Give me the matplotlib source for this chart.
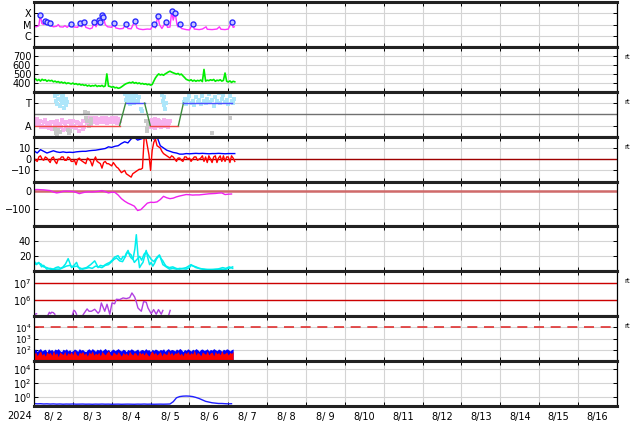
import numpy as np
import pandas as pd
import matplotlib
matplotlib.use("Agg")
import matplotlib.pyplot as plt
import matplotlib.dates as mdates
from matplotlib.ticker import FuncFormatter, NullFormatter, NullLocator

T0 = pd.Timestamp("2024-08-02")

# ---- panel 1: x-ray flux (hour, log10 W/m2) and flare peaks
xray = [(0, -5.15), (1.5, -5.2), (3, -5.1), (3.9, -4.12), (4.8, -4.9), (6, -5.0), (6.8, -4.67),
        (7.5, -4.95), (8.2, -4.79), (9, -5.0), (9.6, -4.85), (10.5, -5.1), (12, -5.2), (14, -5.15),
        (15, -5.0), (16, -5.2), (18, -5.22), (19.1, -5.1), (20.5, -5.25), (22.8, -4.94), (23.8, -5.2),
        (25.2, -5.22), (27, -5.25), (28.3, -4.85), (29.5, -5.2), (31, -4.76), (32, -5.25), (34.5, -5.38),
        (36, -5.3), (37.1, -4.76), (38.3, -5.2), (40, -4.57), (40.5, -5.0), (41, -4.76), (41.6, -5.0),
        (42, -4.12), (42.5, -4.6), (42.9, -4.34), (44, -5.0), (45.5, -5.2), (46.8, -5.22), (48, -5.25),
        (49.4, -4.85), (50.5, -5.3), (52.9, -5.38), (55, -5.35), (56.8, -4.94), (58, -5.35), (60, -5.38),
        (62.4, -4.64), (63.5, -5.3), (65, -5.4), (67.3, -5.45), (70, -5.4), (72, -5.42), (74, -4.94),
        (75, -5.3), (76.5, -4.21), (77.5, -5.0), (79, -5.35), (81.4, -4.76), (82.5, -5.25), (84, -5.22),
        (85.1, -3.76), (86, -4.6), (87.2, -3.94), (88.3, -5.0), (89, -5.22), (90, -4.94), (91, -5.35),
        (94, -5.45), (96, -5.48), (98, -4.94), (99, -5.4), (102, -5.45), (104, -5.4), (106.3, -5.2),
        (107, -5.42), (110, -5.45), (113, -5.4), (114.5, -5.2), (115.5, -5.42), (118, -5.45),
        (120, -5.4), (122, -4.76), (123, -5.25), (123.7, -5.2)]
flares = [(3.9, -4.12), (6.8, -4.67), (8.2, -4.79), (9.6, -4.85), (22.8, -4.94), (28.3, -4.85),
          (31, -4.76), (37.1, -4.76), (40, -4.57), (41, -4.76), (42, -4.12), (42.9, -4.34),
          (49.4, -4.85), (56.8, -4.94), (62.4, -4.64), (74, -4.94), (76.5, -4.21), (81.4, -4.76),
          (85.1, -3.76), (87.2, -3.94), (90, -4.94), (98, -4.94), (122, -4.76)]

# ---- panel 2: solar wind speed, hourly from 8/2 00h
speed = [430, 445, 425, 438, 420, 440, 428, 435, 418, 430,
         422, 428, 412, 420, 408, 415, 402, 410, 398, 406,
         392, 400, 395, 388, 398, 385, 392, 380, 388, 376,
         382, 372, 378, 365, 374, 362, 370, 366, 375, 360,
         368, 362, 372, 358, 366, 500, 364, 360, 352, 358,
         345, 350, 340, 344, 355, 368, 382, 392, 398, 405,
         400, 410, 396, 404, 392, 400, 388, 394, 385, 390,
         380, 386, 375, 382, 420, 455, 480, 500, 488, 495,
         485, 500, 510, 522, 530, 520, 512, 505, 498, 505,
         490, 498, 478, 460, 440, 432, 425, 435, 420, 430,
         418, 428, 422, 432, 415, 550, 420, 430, 425, 435,
         428, 438, 418, 430, 425, 435, 420, 428, 510, 418,
         410, 422, 405, 418, 412]

# ---- panel 3: sector (T=+1, A=-1)
toward_pts = [(13, 1.6), (13.5, 1.2), (14, 1.8), (14.5, 0.9), (15, 1.4), (15.5, 1.9), (16, 0.7),
              (16.5, 1.3), (17, 1.5), (17.5, 1.0), (18, 1.7), (18.5, 0.6), (19, 1.2), (19.5, 1.4),
              (20, 0.8), (20.5, 1.1), (56.5, 1.8), (57, 1.3), (57.5, 1.6), (58, 1.1), (58.5, 1.9),
              (59, 1.4), (59.5, 0.9), (60, 1.5), (60.5, 1.2), (61, 1.7), (61.5, 1.0), (62, 1.4),
              (63, 1.6), (64, 1.2), (65, 1.5), (66, 0.5), (66.5, 0.3), (79, 1.7), (79.5, 1.2),
              (80, 0.8), (80.5, 1.5), (81, 0.5), (81.5, 1.0), (92.5, 1.1), (93, 1.4), (94, 0.9),
              (95, 1.3), (96, 1.6), (97, 1.0), (98, 1.2), (99, 0.8), (100, 1.5), (101, 1.1),
              (102, 1.3), (103, 0.9), (104, 1.6), (105, 1.2), (106, 1.0), (107, 1.4), (108, 1.8),
              (109, 1.1), (110, 1.3), (111, 0.7), (112, 1.5), (113, 1.2), (114, 1.9), (115, 1.0),
              (116, 1.4), (117, 1.7), (118, 1.1), (119, 1.3), (120, 0.9), (121, 1.6), (122, 1.2),
              (123, 1.0), (123.5, 1.4)]
away_pts = [(0, -0.5), (1, -0.8), (2, -0.4), (3, -0.9), (4, -0.6), (5, -1.0), (6, -0.7), (7, -1.1),
            (8, -0.8), (9, -1.2), (10, -0.9), (11, -1.3), (12, -0.7), (13, -1.0), (14, -0.6),
            (15, -1.2), (16, -0.9), (17, -0.5), (18, -1.4), (19, -0.8), (20, -1.1), (21, -0.7),
            (22, -1.3), (23, -0.9), (24, -0.6), (25, -1.0), (26, -1.2), (27, -0.8), (28, -1.5),
            (29, -0.9), (30, -0.6), (31, -1.1), (32, -0.4), (33, -0.8), (34, -0.5), (35, -0.9),
            (36, -0.3), (37, -0.7), (38, -0.5), (39, -0.8), (40, -0.4), (41, -0.6), (42, -0.3),
            (43, -0.7), (44, -0.5), (45, -0.8), (46, -0.4), (47, -0.6), (48, -0.3), (49, -0.7),
            (50, -0.5), (51, -0.8), (52, -0.4), (53, -0.6),
            (0.5, -0.9), (2.5, -0.6), (4.5, -1.1), (6.5, -0.5), (8.5, -1.0), (10.5, -0.7),
            (12.5, -1.2), (14.5, -0.9), (16.5, -1.1), (18.5, -0.7), (20.5, -1.3), (22.5, -0.6),
            (24.5, -1.1), (26.5, -0.7), (28.5, -1.0), (30.5, -1.3), (32.5, -0.7), (34.5, -0.3),
            (36.5, -0.6), (38.5, -0.3), (40.5, -0.7), (42.5, -0.5), (44.5, -0.3), (46.5, -0.7),
            (48.5, -0.5), (50.5, -0.3), (52.5, -0.7),
            (71, -0.6), (71.5, -0.9), (72, -1.1), (72.5, -0.7), (73, -0.5), (73.5, -1.0), (74, -0.8),
            (74.5, -0.4), (75, -1.2), (75.5, -0.7), (76, -0.9), (76.5, -0.5), (77, -1.0), (77.5, -0.6),
            (78, -0.8), (78.5, -1.1), (79, -0.7), (79.5, -0.9), (80, -0.5), (80.5, -0.8), (81, -1.0),
            (81.5, -0.6), (82, -0.9), (82.5, -0.7), (83, -1.1), (83.5, -0.8), (84, -0.6)]
gray_pts = [(13, -1.3), (13.5, -1.7), (14, -1.5), (14.5, -1.8), (15, -1.4), (16, -1.6), (21, -1.4),
            (21.5, -1.7), (22, -1.5), (31.5, 0.2), (32, -0.3), (33, -0.6), (33.5, 0.1), (34, -1.0),
            (35, -0.4), (35.5, -0.8), (69, -0.6), (69.5, -1.2), (70, -1.5), (70.5, -0.9),
            (110, -1.7), (121, -0.3)]
sector_line = [(0, -1), (52.9, -1), (56.6, 1), (68.3, 1), (71.8, -1), (89.2, -1), (92.3, 1), (122, 1)]
sector_colors = ["#f04848", "#3c8c3c", "#5050ff", "#3c8c3c", "#f04848", "#3c8c3c", "#5050ff"]

# ---- panel 4: IMF Bt (2-hourly) and Bz (hourly), nT
bt = [7.5, 5.5, 8.5, 7, 5.5, 6.5, 7.5, 6.5, 6, 6.5,
      6, 6.2, 6, 6.5, 6.8, 7, 7, 7.5, 7.8, 8,
      8.5, 9, 9.5, 11, 10.5, 11.5, 12, 14, 15.5, 14.5,
      18, 19.5, 17, 18, 19, 21, 20, 18, 20, 12,
      10, 8, 7, 6, 5.5, 4.5, 4.5, 5, 4.8, 5,
      5.2, 5, 5.2, 5, 4.8, 5, 5, 5.2, 5, 4.8,
      5, 5, 5]
bz = [1, -1, -2, 2, 3, 0, -1, 2, 1, -1,
      -3, 1, 2, -2, -4, 0, 0, 2, 2, -1,
      -1, 2, 1, -2, -2, -1, -5, 0, 1, -1,
      -2, -3, -4, 1, 0, -2, -6, -1, 2, -2,
      -3, -4, -8, -3, -2, -4, -4, -5, -6, -3,
      -5, -7, -8, -10, -12, -11, -10, -13, -14, -15,
      -16, -13, -12, -11, -10, -9, -9, -8, 18, 20,
      12, 4, -10, 8, 15, 18, 12, 11, 10, 7,
      5, 4, 3, 2, 1, 3, 2, 0, -2, 1,
      1, -1, -2, 2, 2, 0, 1, -2, 0, 2,
      2, -1, 0, 1, 3, -2, 2, -3, 3, 0,
      -3, 2, 3, -3, 1, 3, -2, 3, -2, 2,
      2, -3, 3, 1, -2]

# ---- panel 5: Dst (2-hourly), nT
dst = [5, 6, 5, 4, 2, 0, -8, -13, -10, -4,
       -3, -4, -5, -10, -17, -12, -8, -7, -8, -6,
       -4, 0, -6, -13, -9, -10, -25, -45, -59, -70,
       -78, -87, -111, -106, -88, -70, -65, -66, -63, -50,
       -32, -40, -45, -42, -35, -30, -26, -22, -23, -25,
       -24, -24, -22, -20, -18, -17, -16, -14, -13, -22,
       -20, -19]

# ---- panel 6: two cyan index curves
cyan_a = [(0, 14), (1.6, 9), (3, 12), (4.7, 6), (6, 8), (7.8, 3), (10, 4), (11.9, 3), (13.5, 5),
          (15, 6), (16.5, 4), (18, 6), (19.5, 10), (21.1, 17), (22, 12), (23.2, 5), (24.7, 8),
          (26.3, 12), (27.3, 6), (28.3, 3), (30.5, 4), (32.4, 5), (35, 9), (37.5, 14), (38.5, 10),
          (39.6, 5), (41, 8), (42.7, 7), (44.8, 10), (46.8, 12), (48.3, 15), (49.8, 19), (51.9, 21),
          (53, 17), (54, 16), (55, 20), (56, 19), (57, 24), (58.1, 28), (59.1, 21), (60, 18),
          (61.1, 16), (62.3, 30), (63.2, 49), (64.2, 22), (65.2, 5), (66.3, 9), (67.3, 12),
          (68.3, 20), (69.3, 28), (70.3, 18), (71.4, 9), (72.4, 12), (73.4, 7), (74.5, 11),
          (75.5, 16), (76.5, 19), (77.5, 21), (78.5, 17), (79.6, 14), (80.6, 10), (81.6, 7),
          (83.6, 5), (85.7, 6), (87.8, 4), (89.9, 3), (92, 4), (94, 5), (95.5, 7), (97, 9),
          (98.5, 7), (100.1, 6), (102, 4), (104.2, 3), (107, 2.5), (110.4, 2.7), (113.5, 3),
          (116.5, 5), (118.5, 4), (120.6, 6), (122.7, 4)]
cyan_b = [(0, 9), (2, 11), (4.2, 10), (6, 6), (8, 5), (10, 3), (12, 2.5), (14, 3), (16, 3), (18, 5),
          (20, 7), (22, 8), (24.2, 6), (26.3, 7), (28, 5), (30, 3), (32, 4), (34, 5), (36, 4),
          (38, 7), (40, 6), (42, 5), (44, 8), (46, 9), (48, 13), (49.4, 16), (51, 18), (52.9, 14),
          (54.7, 13), (56.5, 20), (57.5, 25), (58.9, 24), (60, 22), (62, 12), (64, 17), (65.2, 20),
          (66.5, 15), (68, 23), (69.3, 26), (70.5, 22), (72.4, 16), (74, 13), (76, 19), (77.5, 22),
          (79.6, 9), (81.6, 6), (83.7, 3), (85.7, 4), (88, 3), (90, 4), (94, 3), (96, 5), (97, 8),
          (98.5, 7), (100, 5), (102, 4), (106, 2.5), (110, 2), (114, 3), (118, 2.5), (120.6, 4),
          (122.7, 6)]

# ---- panel 7: electron fluence (log10), gaps as nan
electron = [(0, 5.1), (1.6, 5.15), (5, np.nan),
            (8.8, 5.1), (9.5, 5.24), (10.2, 5.15), (10.9, 5.24), (11.9, 5.22), (12.9, 5.12), (18, np.nan),
            (23.8, 5.1), (24.6, 5.36), (25.4, 5.3), (26.3, 5.12), (28, np.nan),
            (30.4, 5.1), (32.8, 5.44), (34, 5.3), (35.5, 5.3), (37.5, 5.42), (39.6, 5.18), (40.6, 5.3),
            (41.6, 5.8), (43.7, 5.3), (45.1, 5.72), (46.8, 5.12), (48.2, 5.8), (49.8, 5.75), (50.9, 6.02),
            (52.9, 6.0), (55, 6.1), (57, 6.06), (59.1, 6.12), (60.5, 6.4), (62.2, 6.15), (63.2, 5.86),
            (64.2, 5.5), (65.2, 5.4), (66.3, 5.3), (67.7, 5.88), (69.3, 5.85), (70.4, 5.5), (72.4, 5.15),
            (73.9, 5.4), (75.5, 5.12), (76.9, 5.4), (78.6, 5.12), (79.6, 5.35), (81, np.nan),
            (83.3, 5.1), (84.1, 5.35)]

# ---- panel 8: proton counts, hourly
proton_b = [95, 120, 70, 105, 130, 80, 100, 115, 65, 125,
            90, 110, 75, 120, 100, 130, 85, 70, 115, 95,
            125, 80, 105, 70, 90, 120, 100, 75, 130, 95,
            110, 80, 70, 105, 125, 90, 130, 100, 75, 115,
            95, 125, 80, 105, 135, 90, 110, 70, 100, 120,
            85, 105, 130, 95, 80, 115, 100, 70, 110, 90,
            125, 105, 80, 95, 120, 75, 100, 110, 85, 130,
            95, 105, 70, 115, 90, 120, 100, 80, 110, 95,
            125, 75, 105, 130, 90, 110, 100, 80, 120, 95,
            135, 105, 70, 110, 90, 125, 100, 80, 115, 95,
            130, 105, 75, 110, 120, 90, 100, 125, 80, 110,
            95, 130, 105, 85, 120, 100, 75, 115, 95, 125,
            110, 80, 105, 120]
proton_r = [40, 65, 30, 55, 80, 35, 50, 28, 70, 45,
            60, 32, 85, 40, 55, 25, 65, 48, 38, 75,
            30, 58, 42, 68, 35, 90, 45, 30, 60, 50,
            72, 38, 55, 28, 65, 45, 80, 35, 52, 40,
            62, 30, 75, 48, 36, 58, 85, 42, 30, 66,
            50, 38, 70, 45, 28, 60, 40, 55, 32, 78,
            46, 35, 62, 50, 30, 72, 44, 58, 36, 65,
            40, 28, 55, 80, 42, 60, 35, 50, 70, 30,
            58, 45, 38, 88, 40, 62, 33, 55, 48, 70,
            36, 52, 30, 65, 45, 75, 38, 58, 42, 95,
            35, 60, 48, 30, 68, 50, 40, 80, 36, 55,
            62, 30, 72, 45, 58, 38, 85, 42, 50, 66,
            35, 60, 48, 75]

# ---- panel 9: log10 flux, 2-hourly
flux9 = [-0.85, -0.9, -0.88, -0.92, -0.9, -0.93, -0.91, -0.94, -0.92, -0.95,
         -0.93, -0.94, -0.92, -0.95, -0.94, -0.93, -0.95, -0.94, -0.96, -0.94,
         -0.95, -0.93, -0.95, -0.94, -0.96, -0.95, -0.94, -0.96, -0.95, -0.94,
         -0.95, -0.96, -0.94, -0.95, -0.93, -0.95, -0.94, -0.96, -0.95, -0.94,
         -0.95, -0.94, -0.92, -0.6, -0.05, 0.12, 0.18, 0.2, 0.18, 0.12,
         0.0, -0.15, -0.35, -0.55, -0.65, -0.75, -0.8, -0.85, -0.85, -0.88,
         -0.9, -0.88]


def t(hours):
    return T0 + pd.to_timedelta(np.asarray(hours, dtype=float), unit="h")


def split(pairs):
    h, v = zip(*pairs)
    return np.array(h, dtype=float), np.array(v, dtype=float)


def day_label(x, pos):
    d = mdates.num2date(x)
    return f"{d.month}/{d.day:2d}"


fig, axes = plt.subplots(9, 1, sharex=True, figsize=(6.34, 4.24), dpi=100)
fig.subplots_adjust(left=0.0536, right=0.973, top=0.995, bottom=0.0425, hspace=0)

grid_c = "#d4d4d4"
for ax in axes:
    ax.set_xlim(T0, T0 + pd.Timedelta(days=15))
    ax.xaxis.set_major_locator(mdates.DayLocator())
    ax.xaxis.set_minor_locator(mdates.HourLocator(byhour=12))
    ax.xaxis.set_major_formatter(NullFormatter())
    ax.xaxis.set_minor_formatter(FuncFormatter(day_label))
    ax.grid(True, which="major", color=grid_c, lw=0.8)
    ax.set_axisbelow(True)
    ax.tick_params(which="major", direction="in", length=3, top=True, right=True,
                   labelsize=7, width=0.7, pad=2)
    ax.tick_params(axis="x", which="minor", length=0, labelsize=7, pad=4)
    ax.tick_params(axis="y", which="minor", left=False, right=False)
    for s in ("top", "bottom"):
        ax.spines[s].set_linewidth(2.2)
        ax.spines[s].set_color("#222222")
    for s in ("left", "right"):
        ax.spines[s].set_linewidth(0.9)

# 1 x-ray
ax = axes[0]
h, v = split(xray)
ax.plot(t(h), 10 ** v, color="#ff33ff", lw=1)
h, v = split(flares)
ax.plot(t(h), 10 ** v, "o", ms=3.6, mfc="#c8c8ff", mec="#2a2aff", mew=1)
ax.set_yscale("log")
ax.set_ylim(1e-7, 1e-3)
ax.set_yticks([1e-4, 1e-5, 1e-6])
ax.set_yticklabels(["X", "M", "C"])
ax.yaxis.set_minor_locator(NullLocator())

# 2 solar wind
ax = axes[1]
ax.plot(t(np.arange(len(speed))), speed, color="#00ee00", lw=1.2)
ax.set_ylim(300, 800)
ax.set_yticks([400, 500, 600, 700])

# 3 sector
ax = axes[2]
for pts, c in ((away_pts, "#f7b2ee"), (toward_pts, "#ade6fa"), (gray_pts, "#c8c8c8")):
    h, v = split(pts)
    ax.plot(t(h), v, "s", ms=2.6, color=c, mew=0)
ax.axhline(0, color="#707070", lw=1)
h, v = split(sector_line)
for i, c in enumerate(sector_colors):
    ax.plot(t(h[i:i + 2]), v[i:i + 2], color=c, lw=1)
ax.set_ylim(-2, 2)
ax.set_yticks([1, -1])
ax.set_yticklabels(["T", "A"])

# 4 IMF
ax = axes[3]
ax.axhline(0, color="#a00000", lw=1)
ax.plot(t(np.arange(len(bt)) * 2), bt, color="#0000ff", lw=1)
ax.plot(t(np.arange(len(bz))), bz, color="#ff0000", lw=1)
ax.set_ylim(-20, 20)
ax.set_yticks([10, 0, -10])

# 5 Dst
ax = axes[4]
ax.axhline(0, color="#d06a6a", lw=1.8)
ax.plot(t(np.arange(len(dst)) * 2), dst, color="#ee22ee", lw=1)
ax.set_ylim(-200, 50)
ax.set_yticks([0, -100])

# 6 cyan
ax = axes[5]
for pts in (cyan_b, cyan_a):
    h, v = split(pts)
    ax.plot(t(h), v, color="#00eeee", lw=1.1)
ax.set_ylim(0, 60)
ax.set_yticks([20, 40])

# 7 electrons
ax = axes[6]
ax.set_yscale("log")
ax.axhline(1e7, color="#cc0000", lw=1)
ax.axhline(1e6, color="#cc0000", lw=1)
h, v = split(electron)
ax.plot(t(h), 10 ** v, color="#b040e0", lw=1)
ax.set_ylim(1e5, 5e7)
ax.set_yticks([1e6, 1e7])
ax.yaxis.set_minor_locator(NullLocator())

# 8 protons
ax = axes[7]
ax.set_yscale("log")
hb = t(np.arange(len(proton_b)))
ax.fill_between(hb, 1, proton_b, color="#0000ff", lw=0)
hr = t(np.arange(len(proton_r)))
ax.fill_between(hr, 1, proton_r, color="#ff0000", lw=0)
ax.axhline(1e4, color="#e03030", lw=1.2, dashes=(6, 4))
ax.set_ylim(10, 1e5)
ax.set_yticks([1e2, 1e3, 1e4])
ax.yaxis.set_minor_locator(NullLocator())
ax.tick_params(axis="y", labelsize=6.2)

# 9 flux
ax = axes[8]
ax.set_yscale("log")
ax.plot(t(np.arange(len(flux9)) * 2), 10 ** np.array(flux9), color="#2020ff", lw=1)
ax.set_ylim(10 ** -1.2, 10 ** 5.1)
ax.set_yticks([1, 1e2, 1e4])
ax.yaxis.set_minor_locator(NullLocator())

for i in (1, 2, 3, 6, 7):
    axes[i].text(1.012, 0.78, "rt", transform=axes[i].transAxes, fontsize=5, va="center")

fig.text(7 / 634, 1 - 416 / 424, "2024", fontsize=7, va="center")

fig.savefig("out.png", dpi=100)
